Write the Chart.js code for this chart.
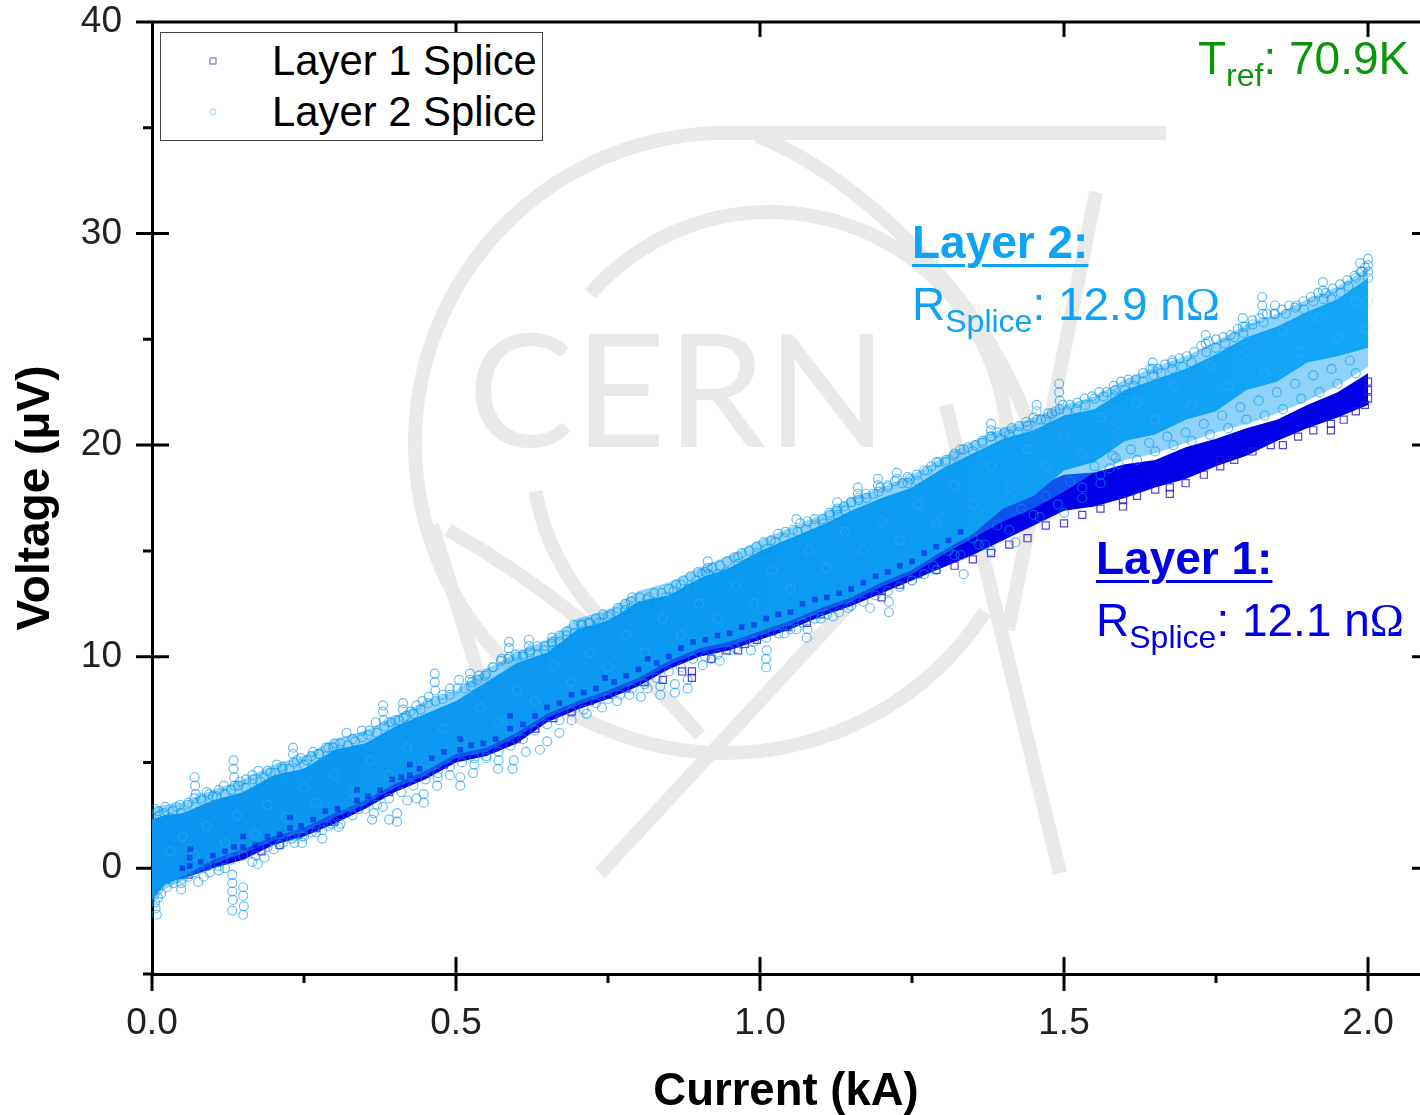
<!DOCTYPE html>
<html lang="en">
  <head>
    <meta charset="UTF-8" />
    <title>Splice voltage vs current</title>
    <script src="https://cdn.jsdelivr.net/npm/chart.js"></script>
    <style>
      body {
        margin: 0;
        background: #fff;
        font-family: "Liberation Sans", Arial, sans-serif;
      }
      #wrap {
        position: relative;
        width: 1420px;
        height: 1115px;
        overflow: hidden;
      }
      #legendBox {
        position: absolute;
        left: 160px;
        top: 32px;
        width: 381px;
        height: 107px;
        border: 1.5px solid #444;
        background: #fff;
      }
      .txt {
        position: absolute;
        white-space: nowrap;
        font-size: 46px;
        line-height: 54px;
      }
      .txt sub {
        font-size: 32px;
        line-height: 0;
        vertical-align: baseline;
        position: relative;
        top: 12px;
      }
      .txt b {
        text-decoration: underline;
        text-decoration-thickness: 3px;
        text-underline-offset: 6px;
      }
      .om { font-family: "Liberation Serif", serif; }
      .leg { font-size: 41.8px; line-height: 49px; color: #000; }
      .sym { position: absolute; }
    </style>
  </head>
  <body>
    <div id="wrap">
      <canvas id="chart" width="1420" height="1115"></canvas>

      <div id="legendBox"></div>
      <svg class="sym" style="left: 205px; top: 53px" width="16" height="16"><rect x="5" y="5" width="6" height="6" fill="none" stroke="#6a5fc8" stroke-width="1" /></svg>
      <svg class="sym" style="left: 205px; top: 104px" width="16" height="16"><circle cx="8" cy="8" r="3" fill="none" stroke="#8fd0f5" stroke-width="1" /></svg>
      <div class="txt leg" style="left: 272px; top: 36px">Layer 1 Splice</div>
      <div class="txt leg" style="left: 272px; top: 87px">Layer 2 Splice</div>

      <div class="txt" style="left: 1198px; top: 31px; color: #0d960d">T<sub>ref</sub>: 70.9K</div>
      <div class="txt" style="left: 912px; top: 215px; color: #0fa3f5"><b>Layer 2:</b></div>
      <div class="txt" style="left: 912px; top: 277px; color: #0fa3f5">R<sub>Splice</sub>: 12.9 n<span class="om">Ω</span></div>
      <div class="txt" style="left: 1096px; top: 531px; color: #0000e6"><b>Layer 1:</b></div>
      <div class="txt" style="left: 1096px; top: 593px; color: #0000e6">R<sub>Splice</sub>: 12.1 n<span class="om">Ω</span></div>
    </div>

    <script>
      // dense core of both bands (kA / uV)
      const bandCurrent = [0, 0.02, 0.05, 0.1, 0.15, 0.2, 0.25, 0.3, 0.35, 0.4, 0.45, 0.5, 0.55, 0.6, 0.65, 0.7, 0.75, 0.8, 0.85, 0.9, 0.95, 1.0, 1.05, 1.1, 1.15, 1.2, 1.25, 1.3, 1.35, 1.4, 1.45, 1.5, 1.55, 1.6, 1.65, 1.7, 1.75, 1.8, 1.85, 1.9, 1.95, 2.0];
      const layer2Upper = [2.3, 2.5, 2.6, 3.2, 3.6, 4.4, 4.7, 5.6, 5.9, 6.7, 7.3, 7.9, 8.8, 9.7, 10.2, 11.3, 11.7, 12.6, 12.9, 13.7, 14.2, 15.0, 15.6, 16.2, 16.9, 17.5, 18.0, 18.9, 19.6, 20.3, 20.7, 21.4, 21.7, 22.6, 23.1, 23.6, 24.3, 25.1, 25.6, 26.3, 26.9, 27.9];
      const layer2Lower = [-1.5, -0.8, -0.4, 0.4, 0.9, 1.5, 1.9, 2.6, 3.2, 4.0, 4.6, 5.4, 5.7, 6.4, 7.3, 7.9, 8.4, 9.0, 9.8, 10.4, 10.7, 11.2, 11.7, 12.3, 12.8, 13.5, 14.1, 15.0, 15.8, 17.0, 17.6, 18.8, 19.2, 20.2, 20.5, 21.2, 21.6, 22.6, 23.0, 23.9, 24.2, 24.6];
      // thinner zone around the Layer 2 core where circles overlap only partly
      const layer2HazeTop = [2.8, 3.0, 3.1, 3.7, 4.2, 4.9, 5.3, 6.1, 6.5, 7.2, 7.9, 8.4, 9.4, 10.2, 10.8, 11.8, 12.2, 13.1, 13.5, 14.2, 14.8, 15.5, 16.1, 16.7, 17.5, 18.0, 18.6, 19.4, 20.2, 20.8, 21.3, 21.9, 22.3, 23.1, 23.7, 24.2, 24.9, 25.7, 26.2, 26.9, 27.5, 28.4];
      const layer2HazeLow = [-1.8, -1.0, -0.6, 0.2, 0.7, 1.3, 1.7, 2.4, 3.0, 3.8, 4.4, 5.2, 5.5, 6.2, 7.1, 7.7, 8.2, 8.8, 9.6, 10.2, 10.5, 11.0, 11.5, 12.1, 12.6, 13.3, 13.9, 14.8, 15.6, 16.4, 17.0, 17.8, 18.7, 19.3, 19.6, 20.1, 20.6, 21.0, 21.5, 22.1, 22.8, 23.7];
      const layer1Upper = [0.8, 1.0, 1.3, 2.0, 2.7, 3.4, 3.9, 4.5, 5.2, 5.9, 6.5, 7.2, 7.6, 8.3, 9.0, 9.8, 10.3, 10.9, 11.6, 12.2, 12.7, 13.1, 13.7, 14.1, 14.7, 15.2, 15.8, 16.4, 16.9, 17.5, 18.0, 18.6, 18.7, 19.1, 19.3, 19.9, 20.3, 20.8, 21.2, 21.9, 22.5, 23.4];
      const layer1Lower = [-0.8, -0.6, -0.5, 0.0, 0.4, 1.1, 1.5, 2.1, 2.8, 3.6, 4.2, 5.0, 5.3, 5.9, 6.9, 7.5, 8.0, 8.6, 9.4, 10.0, 10.3, 10.8, 11.3, 11.9, 12.4, 13.0, 13.6, 14.2, 14.8, 15.5, 16.2, 16.9, 17.1, 17.5, 18.0, 18.4, 19.0, 19.5, 20.2, 20.8, 21.3, 21.9];

      // individual markers that stand out along the band edges
      const layer2Top = [
        [0.005,2.8],[0.012,2.5],[0.02,2.6],[0.03,2.4],[0.04,2.9],[0.048,2.6],[0.06,3.1],[0.07,4.3],[0.071,3.9],[0.072,3.5],
        [0.08,3.3],[0.09,3.6],[0.1,3.4],[0.11,3.7],[0.12,3.5],[0.134,5.1],[0.134,4.7],[0.135,4.3],[0.136,3.9],[0.145,4.1],
        [0.155,4.2],[0.165,4.4],[0.175,4.6],[0.185,4.3],[0.195,4.5],[0.205,4.9],[0.215,4.7],[0.232,5.7],[0.232,5.4],[0.233,5.0],
        [0.245,5.2],[0.255,5.1],[0.265,5.5],[0.275,5.4],[0.29,5.7],[0.3,5.9],[0.31,5.6],[0.32,6.4],[0.33,6.1],[0.345,6.5],
        [0.355,6.3],[0.368,6.9],[0.38,7.7],[0.38,7.4],[0.381,7.0],[0.39,6.9],[0.4,7.0],[0.413,7.8],[0.413,7.5],[0.414,7.1],
        [0.425,7.4],[0.435,7.7],[0.445,7.9],[0.455,8.1],[0.465,9.2],[0.465,8.8],[0.466,8.4],[0.478,8.2],[0.49,8.5],[0.505,8.9],
        [0.523,9.2],[0.523,8.9],[0.524,8.6],[0.535,8.9],[0.548,9.1],[0.56,9.5],[0.575,9.9],[0.587,10.7],[0.587,10.4],[0.588,10.0],
        [0.6,10.0],[0.61,10.1],[0.62,10.8],[0.62,10.5],[0.621,10.2],[0.635,10.1],[0.645,10.3],[0.658,10.9],[0.658,10.6],[0.659,10.3],
        [0.67,10.7],[0.682,11.0],[0.695,11.1],[0.707,11.5],[0.707,11.2],[0.72,11.6],[0.735,11.6],[0.75,11.9],[0.765,12.1],[0.778,12.2],
        [0.788,12.6],[0.788,12.3],[0.8,12.3],[0.817,12.8],[0.817,12.5],[0.83,12.5],[0.845,12.8],[0.858,13.1],[0.87,13.4],[0.882,13.2],
        [0.895,13.6],[0.905,13.9],[0.914,14.5],[0.914,14.2],[0.915,13.9],[0.93,13.9],[0.945,14.0],[0.964,14.7],[0.964,14.4],[0.965,14.1],
        [0.98,14.4],[0.995,14.9],[1.01,15.1],[1.025,15.4],[1.04,15.6],[1.06,16.5],[1.062,15.9],[1.075,16.0],[1.09,16.2],[1.105,16.3],
        [1.115,16.7],[1.127,17.3],[1.127,17.0],[1.128,16.7],[1.14,16.9],[1.15,17.3],[1.161,18.0],[1.161,17.7],[1.162,17.4],[1.175,17.5],
        [1.194,18.4],[1.194,18.1],[1.195,17.8],[1.21,18.0],[1.225,18.7],[1.225,18.4],[1.243,18.5],[1.243,18.2],[1.26,18.3],[1.275,18.8],
        [1.29,19.2],[1.305,19.2],[1.32,19.6],[1.335,19.8],[1.35,19.7],[1.365,20.1],[1.38,21.0],[1.38,20.7],[1.381,20.4],[1.395,20.3],
        [1.41,20.5],[1.425,20.6],[1.44,20.9],[1.455,21.9],[1.455,21.6],[1.456,21.2],[1.47,21.2],[1.48,21.5],[1.492,22.9],[1.492,22.5],[1.493,22.1],[1.493,21.7],
        [1.505,21.6],[1.52,21.7],[1.535,21.9],[1.55,22.2],[1.565,22.3],[1.584,22.6],[1.584,22.3],[1.6,22.6],[1.615,22.8],[1.63,23.0],
        [1.646,23.9],[1.646,23.6],[1.647,23.3],[1.66,23.4],[1.678,23.9],[1.678,23.6],[1.695,23.7],[1.71,23.9],[1.733,25.2],[1.733,24.8],[1.734,24.4],
        [1.75,24.6],[1.765,24.8],[1.78,25.1],[1.794,26.0],[1.794,25.6],[1.795,25.3],[1.81,25.7],[1.826,27.0],[1.826,26.6],[1.827,26.2],[1.828,25.8],
        [1.847,26.6],[1.847,26.2],[1.865,26.2],[1.88,26.5],[1.895,26.4],[1.91,26.8],[1.926,27.7],[1.926,27.3],[1.927,26.9],[1.94,26.9],
        [1.955,27.2],[1.968,27.5],[1.98,27.9],[1.987,28.6],[1.988,28.2],[1.995,28.4],[2.0,28.8],[2.0,28.5],[2.0,28.2],[2.0,27.9]
      ];
      const layer2TopFringe = [
        [0.01,2.7],[0.022,2.9],[0.034,2.7],[0.046,3.0],[0.058,3.0],[0.07,3.3],[0.082,3.2],[0.094,3.5],[0.106,3.4],[0.118,3.9],[0.13,3.7],[0.142,3.9],[0.154,3.8],[0.166,4.2],[0.178,4.1],[0.19,4.6],[0.202,4.5],[0.214,4.8],[0.226,4.7],[0.238,5.1],
        [0.25,4.9],[0.262,5.3],[0.274,5.4],[0.286,5.7],[0.298,5.7],[0.31,5.9],[0.322,5.8],[0.334,6.0],[0.346,6.2],[0.358,6.5],[0.37,6.4],[0.382,6.7],[0.394,6.9],[0.406,7.0],[0.418,7.2],[0.43,7.3],[0.442,7.5],[0.454,7.8],[0.466,7.9],[0.478,8.0],
        [0.49,8.2],[0.502,8.5],[0.514,8.5],[0.526,8.8],[0.538,9.1],[0.55,9.2],[0.562,9.5],[0.574,9.8],[0.586,9.9],[0.598,10.1],[0.61,10.0],[0.622,10.3],[0.634,10.5],[0.646,10.5],[0.658,10.7],[0.67,11.0],[0.682,11.2],[0.694,11.5],[0.706,11.5],[0.718,11.6],
        [0.73,11.8],[0.742,12.0],[0.754,12.0],[0.766,12.3],[0.778,12.5],[0.79,12.8],[0.802,12.8],[0.814,12.7],[0.826,13.0],[0.838,13.0],[0.85,13.2],[0.862,13.4],[0.874,13.6],[0.886,13.8],[0.898,14.0],[0.91,14.0],[0.922,14.2],[0.934,14.3],[0.946,14.5],[0.958,14.7],
        [0.97,14.9],[0.982,15.0],[0.994,15.2],[1.006,15.4],[1.018,15.5],[1.03,15.8],[1.042,15.9],[1.054,16.0],[1.066,16.3],[1.078,16.4],[1.09,16.5],[1.102,16.5],[1.114,16.8],[1.126,16.9],[1.138,17.1],[1.15,17.3],[1.162,17.5],[1.174,17.7],[1.186,17.7],[1.198,18.0],
        [1.21,18.1],[1.222,18.3],[1.234,18.2],[1.246,18.4],[1.258,18.6],[1.27,18.8],[1.282,19.0],[1.294,19.2],[1.306,19.3],[1.318,19.5],[1.33,19.8],[1.342,19.9],[1.354,20.0],[1.366,20.2],[1.378,20.4],[1.39,20.6],[1.402,20.6],[1.414,20.8],[1.426,20.9],[1.438,21.1],
        [1.45,21.3],[1.462,21.2],[1.474,21.5],[1.486,21.6],[1.498,21.9],[1.51,21.9],[1.522,22.0],[1.534,22.2],[1.546,22.3],[1.558,22.5],[1.57,22.5],[1.582,22.8],[1.594,23.0],[1.606,23.1],[1.618,23.1],[1.63,23.4],[1.642,23.6],[1.654,23.6],[1.666,23.8],[1.678,24.0],
        [1.69,24.1],[1.702,24.2],[1.714,24.4],[1.726,24.7],[1.738,24.9],[1.75,25.0],[1.762,25.1],[1.774,25.2],[1.786,25.5],[1.798,25.6],[1.81,25.9],[1.822,26.0],[1.834,26.2],[1.846,26.2],[1.858,26.4],[1.87,26.6],[1.882,26.6],[1.894,26.8],[1.906,27.0],[1.918,27.2],
        [1.93,27.2],[1.942,27.4],[1.954,27.6],[1.966,27.8],[1.978,28.0],[1.99,28.2]
      ];
      const layer2Bottom = [
        [0.005,-1.6],[0.006,-1.9],[0.008,-2.2],[0.01,-1.4],[0.015,-1.2],[0.025,-0.9],[0.035,-0.7],[0.048,-1.0],[0.048,-0.7],[0.06,-0.4],
        [0.076,-0.65],[0.085,-0.4],[0.095,-0.2],[0.11,-0.1],[0.12,0.0],[0.132,-0.3],[0.132,-0.7],[0.132,-1.1],[0.133,-1.5],[0.132,-2.0],
        [0.15,-0.9],[0.15,-1.3],[0.151,-1.8],[0.15,-2.2],[0.165,0.3],[0.174,0.2],[0.185,0.5],[0.2,0.9],[0.215,1.2],[0.234,1.2],
        [0.234,1.5],[0.247,1.2],[0.247,1.5],[0.262,1.7],[0.28,1.4],[0.28,1.8],[0.295,2.1],[0.307,1.95],[0.32,2.6],[0.34,2.8],
        [0.362,2.3],[0.365,2.6],[0.38,2.9],[0.403,2.2],[0.403,2.6],[0.39,2.3],[0.42,3.2],[0.435,3.3],[0.447,3.1],[0.447,3.5],
        [0.469,3.9],[0.47,4.3],[0.49,4.4],[0.507,3.9],[0.507,4.3],[0.528,4.5],[0.53,4.9],[0.55,5.2],[0.569,4.7],[0.57,5.1],
        [0.593,4.7],[0.595,5.1],[0.615,5.5],[0.638,5.6],[0.65,6.0],[0.67,6.4],[0.69,7.0],[0.715,7.3],[0.74,7.6],[0.765,7.9],
        [0.785,8.2],[0.804,8.1],[0.815,8.5],[0.836,8.2],[0.836,8.6],[0.86,8.3],[0.86,8.7],[0.881,8.5],[0.881,8.9],[0.906,9.6],
        [0.92,9.9],[0.934,9.8],[0.96,10.4],[0.985,10.3],[1.01,9.5],[1.01,9.9],[1.011,10.3],[1.04,11.1],[1.06,11.3],[1.077,10.9],
        [1.078,11.3],[1.1,11.8],[1.12,11.9],[1.145,12.3],[1.181,12.3],[1.212,12.1],[1.212,12.6],[1.25,13.6],[1.285,14.3],[1.32,14.8],
        [1.335,13.9],[1.36,15.3],[1.38,15.0],[1.42,15.4],[1.46,16.6],[1.5,16.8],[1.53,17.5],[1.56,18.2],[1.575,18.9],[1.585,19.4]
      ];
      const layer2LowFringe = [
        [0.03,-0.5],[0.05,-0.5],[0.07,-0.2],[0.09,0.1],[0.11,0.1],[0.13,0.4],[0.15,0.6],[0.17,0.6],[0.19,1.0],[0.21,1.1],[0.23,1.4],[0.25,1.5],[0.27,1.7],[0.29,2.0],[0.31,2.1],[0.33,2.5],[0.35,2.8],[0.37,3.0],[0.39,3.3],[0.41,3.6],
        [0.43,3.9],[0.45,4.2],[0.47,4.5],[0.49,4.8],[0.51,5.0],[0.53,5.2],[0.55,5.3],[0.57,5.5],[0.59,5.8],[0.61,6.1],[0.63,6.5],[0.65,6.8],[0.67,7.0],[0.69,7.4],[0.71,7.5],[0.73,7.8],[0.75,8.0],[0.77,8.2],[0.79,8.5],[0.81,8.7],
        [0.83,9.0],[0.85,9.3],[0.87,9.5],[0.89,9.9],[0.91,10.0],[0.93,10.1],[0.95,10.3],[0.97,10.6],[0.99,10.7],[1.01,10.9],[1.03,11.1],[1.05,11.3],[1.07,11.6],[1.09,11.8],[1.11,12.0],[1.13,12.1],[1.15,12.4],[1.17,12.6],[1.19,12.9],[1.21,13.1],
        [1.23,13.3],[1.25,13.6],[1.27,13.9],[1.29,14.1],[1.31,15.0],[1.33,14.8],[1.35,15.6],[1.37,15.3],[1.39,16.2],[1.41,16.0],[1.43,17.0],[1.45,16.7],[1.47,17.6],[1.49,17.2],[1.51,18.3],[1.53,18.0],[1.55,19.0],[1.56,18.6],[1.58,19.5],[1.59,19.1],
        [1.61,19.8],[1.62,19.3],[1.64,20.1],[1.65,19.7],[1.67,20.4],[1.68,20.0],[1.7,20.6],[1.71,20.2],[1.73,21.0],[1.74,20.5],[1.76,21.4],[1.77,20.8],[1.79,21.8],[1.8,21.2],[1.82,22.1],[1.83,21.4],[1.85,22.5],[1.86,21.7],[1.88,22.9],[1.89,22.2],
        [1.91,23.3],[1.92,22.5],[1.94,23.6],[1.95,22.9],[1.97,24.0],[1.98,23.4]
      ];
      // circles scattered over the core, they give the band its texture
      const layer2Inner = [
        [0.03,0.8],[0.05,1.5],[0.07,0.6],[0.09,2.0],[0.12,1.2],[0.14,2.5],[0.17,1.6],[0.19,3.0],[0.22,2.4],[0.25,3.8],
        [0.27,3.1],[0.3,4.4],[0.33,3.6],[0.36,5.1],[0.39,4.4],[0.42,5.7],[0.45,5.0],[0.48,6.6],[0.51,6.0],[0.54,7.6],
        [0.57,6.9],[0.6,8.4],[0.63,7.9],[0.66,9.6],[0.69,8.8],[0.72,10.2],[0.75,9.5],[0.78,11.0],[0.81,10.2],[0.84,11.8],
        [0.87,11.0],[0.9,12.5],[0.93,11.8],[0.96,13.4],[0.99,12.5],[1.02,14.1],[1.05,13.2],[1.08,15.0],[1.11,14.2],[1.14,15.9],
        [1.17,15.0],[1.2,16.4],[1.23,15.5],[1.26,17.2],[1.29,16.3],[1.32,18.1],[1.35,17.2],[1.38,19.0],[1.41,18.0],[1.44,19.8],
        [1.47,19.0],[1.5,20.4],[1.53,19.6],[1.56,21.3],[1.59,20.6],[1.62,22.0],[1.65,21.2],[1.68,22.8],[1.71,21.9],[1.74,23.8],
        [1.77,22.8],[1.8,24.4],[1.83,23.4],[1.86,25.4],[1.89,24.4],[1.92,26.0],[1.95,25.1],[1.98,26.8],[1.995,25.5],[2.0,26.8]
      ];
      const layer1Edge = [
        [0.06,-0.3],[0.09,0.1],[0.12,0.5],[0.15,0.7],[0.18,0.8],[0.21,1.1],[0.24,1.6],[0.27,1.9],[0.3,2.2],[0.33,2.9],
        [0.36,3.3],[0.39,3.6],[0.42,4.1],[0.45,4.5],[0.48,4.9],[0.51,5.3],[0.54,5.6],[0.57,5.9],[0.6,6.1],[0.63,6.6],
        [0.66,7.1],[0.69,7.4],[0.72,7.9],[0.75,8.2],[0.78,8.5],[0.81,8.8],[0.84,8.9],[0.872,9.3],[0.888,9.0],[0.888,9.3],
        [0.92,9.9],[0.945,10.3],[0.964,10.3],[0.975,10.6],[0.995,10.8],[1.02,11.2],[1.045,11.4],[1.077,11.6],[1.077,11.9],[1.1,12.0],
        [1.13,12.4],[1.16,12.8],[1.2,12.8],[1.2,13.1],[1.23,13.4],[1.26,13.9],[1.29,14.1],[1.32,14.3],[1.35,14.6],[1.38,14.9],
        [1.41,15.3],[1.44,15.6],[1.47,16.2],[1.5,16.3],[1.53,16.7],[1.56,17.0],[1.597,17.1],[1.597,17.4],[1.62,17.6],[1.65,17.9],
        [1.674,17.7],[1.674,18.0],[1.7,18.2],[1.73,18.6],[1.757,19.0],[1.757,19.3],[1.78,19.3],[1.81,19.7],[1.84,20.0],[1.86,20.0],
        [1.885,20.4],[1.91,20.7],[1.939,20.7],[1.939,21.0],[1.96,21.2],[1.98,21.6],[1.995,21.9],[2.0,22.2],[2.0,22.6],[2.0,23.0]
      ];
      // dark Layer 1 clusters that show through the lower part of the Layer 2 band
      const layer1Show = [
        [0.05,0.0],[0.062,0.1],[0.062,0.5],[0.063,0.9],[0.08,0.3],[0.1,0.6],[0.12,0.8],[0.135,1.0],[0.15,1.0],[0.15,1.5],[0.17,1.1],[0.19,1.5],[0.21,1.6],[0.227,1.9],[0.227,2.4],[0.245,2.0],[0.265,2.3],[0.285,2.7],[0.305,2.8],[0.337,3.2],
        [0.337,3.7],[0.355,3.4],[0.375,3.7],[0.395,4.2],[0.41,4.3],[0.424,4.4],[0.424,4.9],[0.44,4.7],[0.46,5.2],[0.48,5.5],[0.507,5.6],[0.507,6.1],[0.525,5.8],[0.545,5.9],[0.565,6.1],[0.589,6.6],[0.589,7.2],[0.61,6.8],[0.63,7.2],[0.65,7.6],
        [0.67,7.8],[0.69,8.2],[0.71,8.3],[0.73,8.5],[0.745,9.0],[0.76,8.8],[0.78,9.1],[0.8,9.4],[0.815,9.9],[0.83,9.7],[0.85,10.0],[0.87,10.4],[0.89,10.7],[0.91,10.8],[0.93,11.0],[0.95,11.1],[0.97,11.4],[0.99,11.5],[1.01,11.8],[1.03,12.0],
        [1.05,12.1],[1.07,12.5],[1.09,12.7],[1.11,12.8],[1.13,13.0],[1.15,13.2],[1.17,13.5],[1.19,13.8],[1.21,14.0],[1.23,14.3],[1.25,14.5],[1.27,14.9],[1.29,15.2],[1.31,15.5],[1.33,15.9]
      ];

      const xy = (xs, ys) => xs.map((x, i) => ({ x: x, y: ys[i] }));
      const pairs = (list) => list.map((p) => ({ x: p[0], y: p[1] }));

      // grey CERN logo behind the data, plus the tick marks
      const backdrop = {
        id: "backdrop",
        beforeDatasetsDraw(chart) {
          const ctx = chart.ctx;
          const { left, right, top, bottom } = chart.chartArea;
          ctx.save();
          ctx.strokeStyle = "#e9e9e9";
          ctx.fillStyle = "#e9e9e9";
          ctx.lineWidth = 14;

          ctx.beginPath();
          ctx.moveTo(725, 133);
          ctx.lineTo(1166, 133);
          ctx.stroke();

          ctx.beginPath();
          ctx.arc(725, 443, 310, -Math.PI / 2, (33 * Math.PI) / 180, true);
          ctx.stroke();

          ctx.beginPath();
          ctx.moveTo(757, 136);
          ctx.bezierCurveTo(860, 175, 1035, 330, 1050, 520);
          ctx.stroke();

          ctx.beginPath();
          ctx.arc(770, 450, 238, (-139 * Math.PI) / 180, (25 * Math.PI) / 180);
          ctx.stroke();

          ctx.beginPath();
          ctx.arc(770, 450, 238, (170 * Math.PI) / 180, (128 * Math.PI) / 180, true);
          ctx.stroke();

          ctx.beginPath();
          ctx.moveTo(448, 530);
          ctx.quadraticCurveTo(590, 610, 700, 735);
          ctx.stroke();

          ctx.beginPath();
          ctx.moveTo(432, 525);
          ctx.lineTo(485, 695);
          ctx.moveTo(1096, 192);
          ctx.lineTo(1008, 630);
          ctx.moveTo(946, 405);
          ctx.lineTo(1060, 873);
          ctx.moveTo(600, 873);
          ctx.lineTo(960, 485);
          ctx.stroke();

          ctx.font = "158px Lato, 'Liberation Sans', sans-serif";
          ctx.letterSpacing = "1px";
          ctx.textAlign = "left";
          ctx.textBaseline = "alphabetic";
          ctx.fillText("CERN", 468, 447);
          ctx.letterSpacing = "0px";

          // ticks: majors cross the axis, minors stick out only
          ctx.strokeStyle = "#000";
          ctx.lineWidth = 3;
          ctx.beginPath();
          ctx.moveTo(left - 16, top);
          ctx.lineTo(right, top);
          chart.scales.x.ticks.forEach((t) => {
            const px = chart.scales.x.getPixelForValue(t.value);
            const major = t.value % 0.5 === 0;
            ctx.moveTo(px, bottom + (major ? 17 : 9));
            ctx.lineTo(px, bottom - (major && t.value > 0 ? 17 : 0));
            if (major && t.value > 0) {
              ctx.moveTo(px, top);
              ctx.lineTo(px, top + 15);
            }
          });
          chart.scales.y.ticks.forEach((t) => {
            const py = chart.scales.y.getPixelForValue(t.value);
            const major = t.value % 10 === 0;
            ctx.moveTo(left - (major ? 16 : 9), py);
            ctx.lineTo(left, py);
            if (major && t.value < 40) {
              ctx.moveTo(left, py);
              ctx.lineTo(left + 17, py);
              ctx.moveTo(right - 8, py);
              ctx.lineTo(right, py);
            }
          });
          ctx.stroke();
          ctx.restore();
        },
      };

      // core colour gets a bit lighter towards high current, as in the picture
      const coreColor = (c) => {
        const g = c.chart.ctx.createLinearGradient(152, 0, 1368, 0);
        g.addColorStop(0, "rgb(10,150,240)");
        g.addColorStop(0.6, "rgb(12,156,242)");
        g.addColorStop(1, "rgb(20,166,246)");
        return g;
      };

      new Chart(document.getElementById("chart").getContext("2d"), {
        type: "scatter",
        data: {
          datasets: [
            { type: "line", label: "band2hi", data: xy(bandCurrent, layer2Upper), fill: "+1", backgroundColor: coreColor, borderWidth: 0, pointRadius: 0, tension: 0, order: 3 },
            { type: "line", label: "band2lo", data: xy(bandCurrent, layer2Lower), fill: false, borderWidth: 0, pointRadius: 0, tension: 0, order: 3 },
            { type: "line", label: "haze2hi", data: xy(bandCurrent, layer2HazeTop), fill: "+1", backgroundColor: "rgba(30,165,245,0.5)", borderWidth: 0, pointRadius: 0, tension: 0, order: 3.5 },
            { type: "line", label: "haze2lo", data: xy(bandCurrent, layer2HazeLow), fill: false, borderWidth: 0, pointRadius: 0, tension: 0, order: 3.5 },
            { type: "line", label: "band1hi", data: xy(bandCurrent, layer1Upper), fill: "+1", backgroundColor: "rgb(0,0,232)", borderWidth: 0, pointRadius: 0, tension: 0, order: 5 },
            { type: "line", label: "band1lo", data: xy(bandCurrent, layer1Lower), fill: false, borderWidth: 0, pointRadius: 0, tension: 0, order: 5 },
            { label: "Layer 1 Splice", data: pairs(layer1Edge), pointStyle: "rect", pointRadius: 5, pointBorderWidth: 1.2, pointBackgroundColor: "transparent", pointBorderColor: "rgba(40,20,210,0.8)", order: 4 },
            { label: "Layer 1 through", data: pairs(layer1Show), pointStyle: "rect", pointRadius: 4, pointBorderWidth: 0, pointBackgroundColor: "rgba(0,0,225,0.5)", order: 2.5 },
            { label: "Layer 2 inner", data: pairs(layer2Inner), pointStyle: "circle", pointRadius: 4.5, pointBorderWidth: 1, pointBackgroundColor: "transparent", pointBorderColor: "rgba(90,195,250,0.3)", order: 2 },
            { label: "Layer 2 Splice", data: pairs(layer2TopFringe.concat(layer2LowFringe, layer2Top, layer2Bottom)), pointStyle: "circle", pointRadius: 4.5, pointBorderWidth: 1.2, pointBackgroundColor: "transparent", pointBorderColor: "rgba(0,150,235,0.6)", order: 1 },
          ],
        },
        options: {
          responsive: false,
          animation: false,
          layout: { autoPadding: false, padding: { top: 22, left: 0, right: 0, bottom: 0 } },
          plugins: { legend: { display: false }, tooltip: { enabled: false } },
          scales: {
            x: {
              type: "linear",
              min: 0,
              max: 2.0855,
              afterFit: (s) => { s.height = 141; s.paddingLeft = 0; s.paddingRight = 0; },
              grid: { drawOnChartArea: false, drawTicks: false },
              border: { color: "#000", width: 3 },
              ticks: {
                stepSize: 0.25,
                includeBounds: false,
                padding: 28,
                maxRotation: 0,
                autoSkip: false,
                color: "#222",
                font: { family: "'Liberation Sans'", size: 37 },
                callback: (v) => (v % 0.5 === 0 ? v.toFixed(1) : ""),
              },
              title: {
                display: true,
                text: "Current (kA)",
                color: "#000",
                font: { family: "'Liberation Sans'", size: 45.5, weight: "bold" },
                padding: { top: 0, bottom: -5 },
              },
            },
            y: {
              min: -5,
              max: 40,
              afterFit: (s) => { s.width = 152; s.paddingTop = 0; s.paddingBottom = 0; },
              grid: { drawOnChartArea: false, drawTicks: false },
              border: { color: "#000", width: 3 },
              ticks: {
                stepSize: 5,
                padding: 30,
                autoSkip: false,
                color: "#222",
                font: { family: "'Liberation Sans'", size: 37 },
                callback: (v) => (v % 10 === 0 ? String(v) : ""),
              },
              title: {
                display: true,
                text: "Voltage (μV)",
                color: "#000",
                font: { family: "'Liberation Sans'", size: 46, weight: "bold" },
                padding: { top: 9, bottom: 0 },
              },
            },
          },
        },
        plugins: [backdrop],
      });
    </script>
  </body>
</html>
